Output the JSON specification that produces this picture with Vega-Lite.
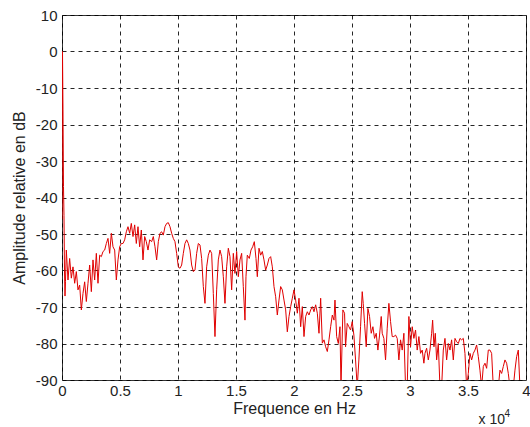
{
  "$schema": "https://vega.github.io/schema/vega-lite/v6.json",
  "width": 464,
  "height": 365,
  "autosize": {"type": "none"},
  "padding": {"left": 62, "top": 15, "right": 4, "bottom": 47},
  "background": "white",
  "config": {
    "view": {"stroke": "#333333", "strokeWidth": 1},
    "font": "Liberation Sans",
    "axis": {
      "labelFont": "Liberation Sans", "titleFont": "Liberation Sans",
      "labelFontSize": 15, "titleFontSize": 16, "titleFontWeight": "normal",
      "labelColor": "#222222", "titleColor": "#222222",
      "domain": false, "ticks": false, "labelOverlap": false,
      "gridColor": "#000000", "gridDash": [4, 4], "gridWidth": 1, "gridOpacity": 0.85
    }
  },
  "layer": [
    {
      "data": {"values": [
        {"f":0,"db":-46},{"f":43,"db":0},{"f":86,"db":-16},{"f":129,"db":-37},{"f":172,"db":-45},{"f":215,"db":-60},{"f":258,"db":-67},{"f":300,"db":-63},
        {"f":373,"db":-54.4},{"f":517,"db":-62.6},{"f":660,"db":-56.7},{"f":805,"db":-62.1},{"f":948,"db":-59.0},{"f":1092,"db":-63.5},{"f":1236,"db":-60.3},{"f":1379,"db":-65.3},{"f":1523,"db":-64.0},{"f":1667,"db":-70.8},{"f":1810,"db":-66.3},{"f":1954,"db":-63.1},{"f":2098,"db":-68.5},{"f":2241,"db":-63.5},{"f":2385,"db":-58.5},{"f":2529,"db":-65.8},{"f":2672,"db":-57.1},{"f":2816,"db":-62.6},{"f":2960,"db":-55.3},{"f":3103,"db":-63.5},{"f":3247,"db":-55.8},{"f":3391,"db":-56.2},{"f":3534,"db":-54.8},{"f":3678,"db":-54.4},{"f":3822,"db":-52.6},{"f":3965,"db":-51.2},{"f":4109,"db":-55.3},{"f":4253,"db":-49.8},{"f":4396,"db":-53.5},{"f":4540,"db":-54.4},{"f":4684,"db":-62.6},{"f":4827,"db":-57.1},{"f":4971,"db":-53.5},{"f":5115,"db":-52.6},{"f":5258,"db":-52.6},{"f":5402,"db":-51.6},{"f":5545,"db":-49.4},{"f":5689,"db":-48.0},{"f":5833,"db":-49.8},{"f":5976,"db":-47.1},{"f":6120,"db":-50.7},{"f":6264,"db":-47.5},{"f":6407,"db":-52.6},{"f":6551,"db":-48.0},{"f":6695,"db":-53.5},{"f":6838,"db":-48.9},{"f":6982,"db":-57.1},{"f":7126,"db":-50.7},{"f":7269,"db":-52.1},{"f":7413,"db":-54.4},{"f":7557,"db":-51.6},
        {"f":7729,"db":-52.1},{"f":7873,"db":-50.7},{"f":8017,"db":-53.5},{"f":8160,"db":-57.1},{"f":8304,"db":-52.1},{"f":8448,"db":-49.8},{"f":8591,"db":-49.4},{"f":8735,"db":-50.3},{"f":8879,"db":-48.0},{"f":9022,"db":-47.1},{"f":9166,"db":-46.9},{"f":9310,"db":-48.0},{"f":9453,"db":-49.8},{"f":9597,"db":-51.2},{"f":9740,"db":-52.1},{"f":9884,"db":-55.3},{"f":10028,"db":-59.0},{"f":10172,"db":-59.4},{"f":10315,"db":-58.5},{"f":10459,"db":-55.3},{"f":10602,"db":-52.6},{"f":10746,"db":-51.6},{"f":10890,"db":-52.6},{"f":11033,"db":-54.4},{"f":11177,"db":-58.5},{"f":11321,"db":-60.3},{"f":11464,"db":-59.9},{"f":11608,"db":-55.3},{"f":11752,"db":-52.6},{"f":11895,"db":-53.0},{"f":12039,"db":-56.7},{"f":12183,"db":-64.4},{"f":12326,"db":-69.0},{"f":12470,"db":-59.0},{"f":12614,"db":-55.8},{"f":12757,"db":-54.4},{"f":12901,"db":-55.3},{"f":13045,"db":-66.3},{"f":13188,"db":-78.1},{"f":13332,"db":-65.3},{"f":13476,"db":-57.1},{"f":13619,"db":-54.4},{"f":13763,"db":-56.2},{"f":13907,"db":-61.7},{"f":14050,"db":-69.0},{"f":14194,"db":-59.0},{"f":14338,"db":-53.9},{"f":14481,"db":-56.2},{"f":14625,"db":-65.3},{"f":14769,"db":-55.3},{"f":14912,"db":-60.8},{"f":15056,"db":-54.8},{"f":15200,"db":-61.7},{"f":15343,"db":-57.1},{"f":15487,"db":-55.3},{"f":15630,"db":-64.4},{"f":15774,"db":-73.6},
        {"f":15860,"db":-61.7},{"f":15975,"db":-55.8},{"f":16148,"db":-56.7},{"f":16292,"db":-54.4},{"f":16436,"db":-53.5},{"f":16580,"db":-52.1},{"f":16723,"db":-56.7},{"f":16838,"db":-61.7},{"f":16982,"db":-53.9},{"f":17126,"db":-55.8},{"f":17269,"db":-54.8},{"f":17413,"db":-57.1},{"f":17557,"db":-59.9},{"f":17700,"db":-58.5},{"f":17844,"db":-56.7},{"f":17988,"db":-56.2},{"f":18131,"db":-59.0},{"f":18275,"db":-64.4},{"f":18419,"db":-67.2},{"f":18562,"db":-72.2},{"f":18706,"db":-68.1},{"f":18850,"db":-64.4},{"f":18993,"db":-65.3},{"f":19137,"db":-68.1},{"f":19281,"db":-70.8},{"f":19424,"db":-76.8},{"f":19568,"db":-72.6},{"f":19712,"db":-69.9},{"f":19855,"db":-67.6},{"f":19999,"db":-65.3},{"f":20143,"db":-68.1},{"f":20286,"db":-71.7},{"f":20430,"db":-67.6},{"f":20574,"db":-75.4},{"f":20717,"db":-69.9},{"f":20861,"db":-78.1},{"f":21005,"db":-72.6},{"f":21148,"db":-71.3},{"f":21292,"db":-72.2},{"f":21436,"db":-70.8},{"f":21579,"db":-69.9},{"f":21723,"db":-71.3},{"f":21867,"db":-69.4},{"f":22010,"db":-71.7},{"f":22154,"db":-77.2},{"f":22298,"db":-67.6},{"f":22441,"db":-79.9},{"f":22585,"db":-79.0},{"f":22729,"db":-80.9},{"f":22872,"db":-82.2},{"f":23016,"db":-79.0},{"f":23160,"db":-75.4},{"f":23303,"db":-72.2},{"f":23447,"db":-73.6},
        {"f":23533,"db":-68.1},{"f":23677,"db":-78.1},{"f":23821,"db":-80.0},{"f":23964,"db":-75.4},{"f":24051,"db":-92},{"f":24214,"db":-70.8},{"f":24358,"db":-71.7},{"f":24444,"db":-80.9},{"f":24588,"db":-74.5},{"f":24731,"db":-75.4},{"f":24875,"db":-76.3},{"f":25019,"db":-74.0},{"f":25162,"db":-77.7},{"f":25306,"db":-84.5},{"f":25450,"db":-92},{"f":25594,"db":-84.5},{"f":25737,"db":-75.4},{"f":25881,"db":-65.8},{"f":25967,"db":-69.0},{"f":26082,"db":-74.5},{"f":26226,"db":-80.9},{"f":26370,"db":-70.4},{"f":26514,"db":-72.6},{"f":26657,"db":-77.2},{"f":26801,"db":-75.4},{"f":26945,"db":-78.6},{"f":27088,"db":-77.2},{"f":27232,"db":-81.8},{"f":27376,"db":-77.7},{"f":27519,"db":-72.6},{"f":27605,"db":-77.2},{"f":27749,"db":-78.6},{"f":27893,"db":-84.5},{"f":28036,"db":-75.8},{"f":28180,"db":-69.0},{"f":28324,"db":-74.0},{"f":28467,"db":-78.1},{"f":28611,"db":-78.1},{"f":28755,"db":-77.7},{"f":28898,"db":-78.6},{"f":29042,"db":-84.5},{"f":29186,"db":-79.0},{"f":29329,"db":-81.8},{"f":29473,"db":-77.2},{"f":29617,"db":-92},{"f":29760,"db":-92},{"f":29904,"db":-72.6},{"f":30047,"db":-80.9},{"f":30191,"db":-75.4},{"f":30335,"db":-78.6},{"f":30478,"db":-76.3},{"f":30622,"db":-81.8},{"f":30766,"db":-78.1},{"f":30909,"db":-82.7},{"f":31053,"db":-81.8},{"f":31197,"db":-85.4},
        {"f":31290,"db":-82.7},{"f":31434,"db":-81.3},{"f":31578,"db":-84.5},{"f":31721,"db":-81.8},{"f":31865,"db":-77.2},{"f":31951,"db":-73.6},{"f":32066,"db":-80.9},{"f":32181,"db":-77.2},{"f":32296,"db":-84.5},{"f":32440,"db":-80.0},{"f":32584,"db":-92},{"f":32727,"db":-92},{"f":32871,"db":-81.8},{"f":33015,"db":-78.6},{"f":33158,"db":-84.5},{"f":33302,"db":-80.0},{"f":33446,"db":-81.8},{"f":33589,"db":-79.0},{"f":33733,"db":-84.5},{"f":33877,"db":-78.6},{"f":34020,"db":-79.5},{"f":34164,"db":-80.0},{"f":34308,"db":-78.6},{"f":34451,"db":-79.0},{"f":34595,"db":-78.6},{"f":34738,"db":-82.7},{"f":34882,"db":-92},{"f":35026,"db":-88.2},{"f":35169,"db":-82.7},{"f":35313,"db":-84.5},{"f":35457,"db":-82.7},{"f":35600,"db":-81.8},{"f":35744,"db":-80.4},{"f":35888,"db":-83.6},{"f":36031,"db":-87.3},{"f":36175,"db":-92},{"f":36319,"db":-86.3},{"f":36462,"db":-85.4},{"f":36606,"db":-86.8},{"f":36750,"db":-81.8},{"f":36893,"db":-81.8},{"f":37037,"db":-82.7},{"f":37181,"db":-92},{"f":37324,"db":-92},{"f":37468,"db":-92},{"f":37612,"db":-92},{"f":37755,"db":-87.3},{"f":37899,"db":-88.2},{"f":38043,"db":-86.3},{"f":38186,"db":-84.5},{"f":38330,"db":-85.4},{"f":38474,"db":-88.2},{"f":38617,"db":-92},{"f":38761,"db":-92},{"f":38905,"db":-92},{"f":39048,"db":-87.3},{"f":39192,"db":-83.6},{"f":39336,"db":-81.8},{"f":39479,"db":-92},{"f":39623,"db":-92},{"f":40000,"db":-92}
      ]},
      "mark": {"type": "line", "color": "#e00000", "strokeWidth": 1, "clip": true},
      "encoding": {
        "x": {
          "field": "f", "type": "quantitative",
          "scale": {"domain": [0, 40000], "nice": false, "zero": false},
          "axis": {
            "values": [0, 5000, 10000, 15000, 20000, 25000, 30000, 35000, 40000],
            "labelExpr": "'' + (datum.value / 10000)",
            "title": "Frequence en Hz", "labelPadding": 3, "titlePadding": 2,
            "labelFlush": false
          }
        },
        "y": {
          "field": "db", "type": "quantitative",
          "scale": {"domain": [-90, 10], "nice": false, "zero": false},
          "axis": {
            "values": [-90, -80, -70, -60, -50, -40, -30, -20, -10, 0, 10],
            "labelExpr": "'' + datum.value",
            "title": "Amplitude relative en dB", "labelPadding": 5, "titlePadding": 8
          }
        }
      }
    },
    {
      "data": {"values": [{}]},
      "mark": {"type": "text", "text": "x 10", "align": "right", "baseline": "alphabetic", "dx": -21, "dy": 44, "fontSize": 14, "font": "Liberation Sans", "color": "#222222"},
      "encoding": {
        "x": {"datum": 40000, "type": "quantitative", "axis": {"values": [0, 5000, 10000, 15000, 20000, 25000, 30000, 35000, 40000], "labelExpr": "'' + (datum.value / 10000)", "title": "Frequence en Hz", "labelPadding": 3, "titlePadding": 2, "labelFlush": false}},
        "y": {"datum": -90, "type": "quantitative", "axis": {"values": [-90, -80, -70, -60, -50, -40, -30, -20, -10, 0, 10], "labelExpr": "'' + datum.value", "title": "Amplitude relative en dB", "labelPadding": 5, "titlePadding": 8}}
      }
    },
    {
      "data": {"values": [{}]},
      "mark": {"type": "text", "text": "4", "align": "right", "baseline": "alphabetic", "dx": -16, "dy": 37, "fontSize": 10, "font": "Liberation Sans", "color": "#222222"},
      "encoding": {
        "x": {"datum": 40000, "type": "quantitative", "axis": {"values": [0, 5000, 10000, 15000, 20000, 25000, 30000, 35000, 40000], "labelExpr": "'' + (datum.value / 10000)", "title": "Frequence en Hz", "labelPadding": 3, "titlePadding": 2, "labelFlush": false}},
        "y": {"datum": -90, "type": "quantitative", "axis": {"values": [-90, -80, -70, -60, -50, -40, -30, -20, -10, 0, 10], "labelExpr": "'' + datum.value", "title": "Amplitude relative en dB", "labelPadding": 5, "titlePadding": 8}}
      }
    }
  ]
}
